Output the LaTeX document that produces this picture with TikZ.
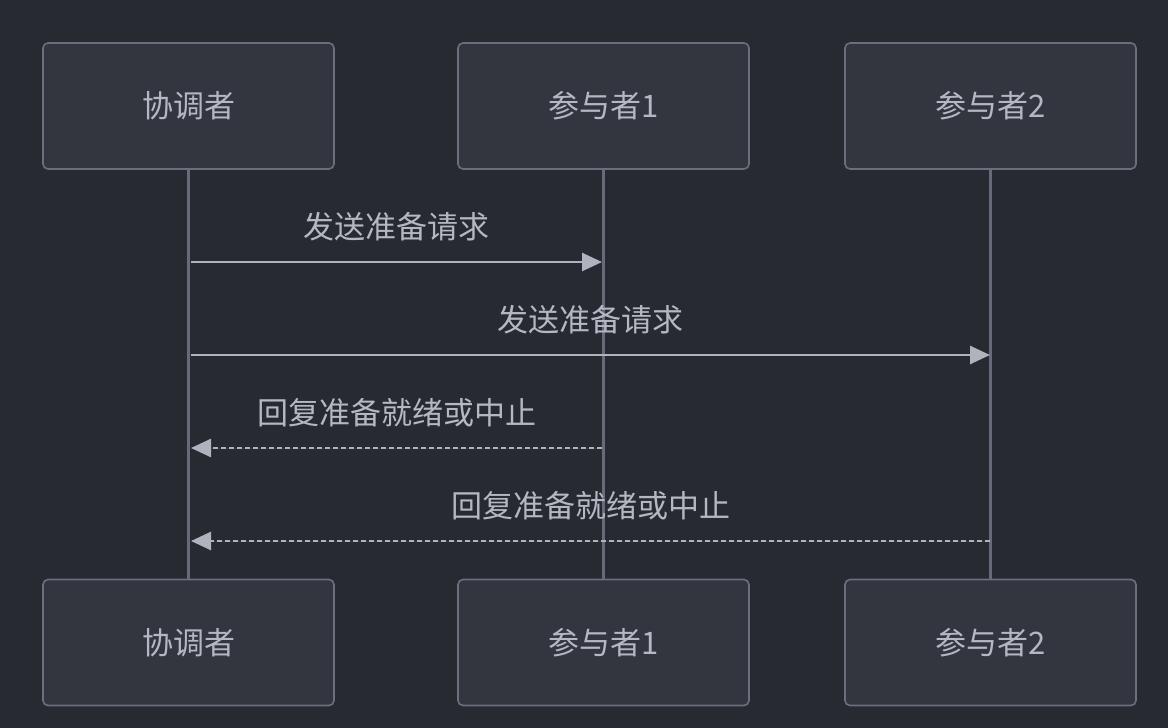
\documentclass[tikz,border=0pt]{standalone}
\usepackage{tikz}
\usetikzlibrary{arrows.meta,positioning}
\usepackage{fontspec}
\setmainfont{Noto Sans CJK SC}
\usepackage{xcolor}
\definecolor{Back}{HTML}{282A31}
\definecolor{BoxFill}{HTML}{33363F}
\definecolor{BoxLine}{HTML}{6A6F7E}
\definecolor{Life}{HTML}{666B79}
\definecolor{Msg}{HTML}{AEB3BE}
\definecolor{Ink}{HTML}{B4B8C2}
\tikzset{
 actor/.style={draw=BoxLine, line width=0.8pt, rounded corners=2.5pt, fill=BoxFill, minimum width=145.5pt, minimum height=63pt, inner sep=0pt, font=\fontsize{15.5pt}{18pt}\selectfont, text=Ink},
 lifeline/.style={draw=Life, line width=1.6pt},
 msg/.style={-{Triangle[length=10pt,width=9pt]}, draw=Msg, fill=Msg, line width=1.3pt},
 reply/.style={msg, dash pattern=on 2.5pt off 1.5pt},
 msglabel/.style={font=\fontsize{15.5pt}{18pt}\selectfont, text=Ink, inner sep=0pt}
}
\begin{document}
\begin{tikzpicture}[x=0.5pt,y=-0.5pt]
\fill[Back] (0,0) rectangle (1168,728);
\useasboundingbox (0,0) rectangle (1168,728);
% actors, top and bottom
\node[actor] (coordT) at (188.5,106) {协调者};
\node[actor] (p1T) at (603.5,106) {参与者1};
\node[actor] (p2T) at (990.5,106) {参与者2};
\node[actor] (coordB) at (188.5,642.5) {协调者};
\node[actor] (p1B) at (603.5,642.5) {参与者1};
\node[actor] (p2B) at (990.5,642.5) {参与者2};
% lifelines
\draw[lifeline] (coordT) -- (coordB);
\draw[lifeline] (p1T) -- (p1B);
\draw[lifeline] (p2T) -- (p2B);
% message ends
\coordinate (c1) at (191,262); \coordinate (a1) at (602,262);
\coordinate (c2) at (191,355); \coordinate (b2) at (990,355);
\coordinate (a3) at (602,448); \coordinate (c3) at (191,448);
\coordinate (b4) at (990,541); \coordinate (c4) at (191,541);
% messages
\draw[msg] (c1) -- node[msglabel, above=10pt] {发送准备请求} (a1);
\draw[msg] (c2) -- node[msglabel, above=10pt] {发送准备请求} (b2);
\draw[reply] (a3) -- node[msglabel, above=10pt] {回复准备就绪或中止} (c3);
\draw[reply] (b4) -- node[msglabel, above=10pt] {回复准备就绪或中止} (c4);
\end{tikzpicture}
\end{document}
